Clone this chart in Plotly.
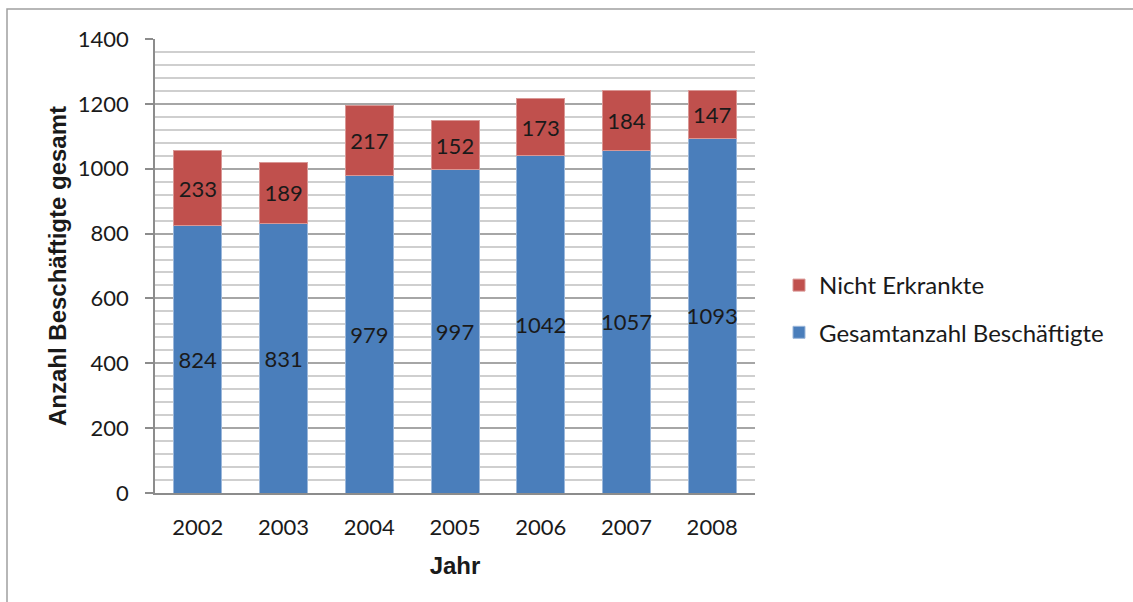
import plotly.graph_objects as go

years = ["2002", "2003", "2004", "2005", "2006", "2007", "2008"]
gesamt = [824, 831, 979, 997, 1042, 1057, 1093]
nicht_erkrankt = [233, 189, 217, 152, 173, 184, 147]

BLUE = "#4A7EBB"
RED = "#C0504D"
FONT = "Lato, 'Open Sans', sans-serif"
TXT = "#1a1a1a"

fig = go.Figure()
fig.add_trace(go.Bar(
    x=years, y=gesamt, name="Gesamtanzahl Beschäftigte",
    marker=dict(color=BLUE, line=dict(color="#9BB7DA", width=1)),
    text=[str(v) for v in gesamt], textposition="inside", insidetextanchor="middle",
    textangle=0, constraintext="none", textfont=dict(size=22, color=TXT, family=FONT),
    legendgroup="a", legendrank=2,
))
fig.add_trace(go.Bar(
    x=years, y=nicht_erkrankt, name="Nicht Erkrankte",
    marker=dict(color=RED, line=dict(color="#D99795", width=1)),
    text=[str(v) for v in nicht_erkrankt], textposition="inside", insidetextanchor="middle",
    textangle=0, constraintext="none", textfont=dict(size=22, color=TXT, family=FONT),
    legendgroup="b", legendrank=1,
))

W, H = 1133, 602
L, R, T, B = 155, 378, 39, 109
pw = W - L - R
ph = H - T - B

fig.update_layout(
    width=W, height=H,
    barmode="stack", bargap=0.44,
    margin=dict(l=L, r=R, t=T, b=B, autoexpand=False),
    paper_bgcolor="white", plot_bgcolor="white",
    font=dict(family=FONT, size=22, color=TXT),
    legend=dict(
        x=(779 - L) / pw, y=(ph - (286 - T) + 23) / ph, xanchor="left", yanchor="top",
        traceorder="grouped", tracegroupgap=13,
        font=dict(size=24, family=FONT, color=TXT),
        bgcolor="rgba(0,0,0,0)",
    ),
    showlegend=True,
    xaxis=dict(
        showline=True, linecolor="#8c8c8c", linewidth=1.5,
        ticks="", ticklabelstandoff=14,
        tickfont=dict(size=22, family=FONT, color=TXT),
        title=dict(text="<b>Jahr</b>", font=dict(family="Arial, Liberation Sans", size=24, color=TXT), standoff=18),
        automargin=False,
    ),
    yaxis=dict(
        range=[0, 1400], dtick=200, tick0=0,
        showline=True, linecolor="#8c8c8c", linewidth=1.5,
        ticks="outside", ticklen=8, tickcolor="#8c8c8c", tickwidth=1.5,
        ticklabelstandoff=12,
        showgrid=True, gridcolor="#a6a6a6", gridwidth=1.5,
        minor=dict(dtick=40, showgrid=True, gridcolor="#cfcfcf", gridwidth=1.5, ticks=""),
        tickfont=dict(size=22, family=FONT, color=TXT),
        title=dict(text="<b>Anzahl Beschäftigte gesamt</b>", font=dict(family="Arial, Liberation Sans", size=24, color=TXT), standoff=4),
        automargin=False, zeroline=False,
    ),
    shapes=[dict(
        type="rect", xref="paper", yref="paper",
        x0=(7 - L) / pw, x1=(1140 - L) / pw,
        y0=-(H + 10 - T - ph) / ph, y1=(ph + (T - 9)) / ph,
        line=dict(color="#a0a0a0", width=1.5), fillcolor="rgba(0,0,0,0)", layer="below",
    )],
)

fig.write_html("out.html")
